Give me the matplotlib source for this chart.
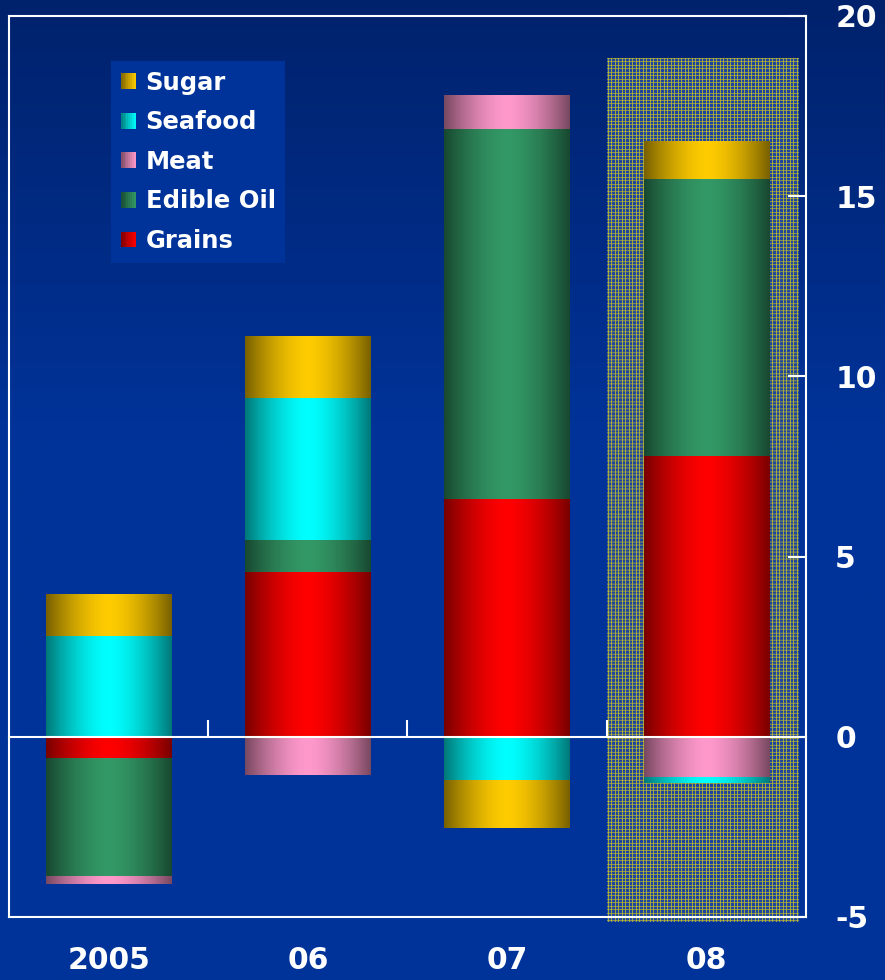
import numpy as np
import matplotlib.pyplot as plt
from matplotlib.colors import to_rgb
from matplotlib.patches import Rectangle
from matplotlib.legend_handler import HandlerBase

plt.rcParams['axes.unicode_minus'] = False

# contributions by commodity group, stacked grains first
years = ['2005', '06', '07', '08']
grains = [-0.6, 4.56, 6.61, 7.78]
edible_oil = [-3.28, 0.89, 10.25, 7.69]
meat = [-0.2, -1.06, 0.94, -1.14]
seafood = [2.8, 3.94, -1.22, -0.15]
sugar = [1.14, 1.72, -1.31, 1.03]

names = ['Grains', 'Edible Oil', 'Meat', 'Seafood', 'Sugar']
series = [grains, edible_oil, meat, seafood, sugar]
colors = ['#ff0000', '#339966', '#ff99cc', '#00ffff', '#ffcc00']

y_ticks = [-5, 0, 5, 10, 15, 20]
# shaded box behind the 2008 forecast
box = (2.5, 3.46, -5.14, 18.83)

BG = '#003399'
WHITE = '#ffffff'


def shade(n=200):
    t = np.linspace(0, 1, n)
    return 0.47 + 0.53 * (1 - np.abs(2 * t - 1) ** 1.6)


def cylinder(color, n=200):
    rgb = np.array(to_rgb(color))
    return np.clip(shade(n)[:, None] * rgb[None, :], 0, 1)[None, :, :]


class GradientHandler(HandlerBase):
    def create_artists(self, legend, orig, xd, yd, w, h, fontsize, trans):
        rgb = np.array(to_rgb(orig.get_facecolor()))
        k = 8
        out = []
        for i in range(k):
            f = 0.5 + 0.5 * (i + 0.5) / k
            r = Rectangle((-xd + w * i / k, -yd), w / k + 0.3, h,
                          facecolor=np.clip(rgb * f, 0, 1), edgecolor='none',
                          transform=trans)
            out.append(r)
        return out


fig = plt.figure(figsize=(8.85, 9.8), dpi=100)

# background, darker toward the top
bg_ax = fig.add_axes([0, 0, 1, 1], zorder=-10)
top = np.array(to_rgb('#00226c'))
bot = np.array(to_rgb(BG))
t = np.clip(np.linspace(0, 1, 400) / 0.45, 0, 1)[:, None]
grad = (top * (1 - t) + bot * t)[:, None, :]
bg_ax.imshow(grad, aspect='auto', extent=[0, 1, 0, 1], origin='upper')
bg_ax.axis('off')

ax = fig.add_axes([0.0102, 0.0643, 0.9005, 0.9194])
ax.set_facecolor('none')

# dotted highlight pattern
ny, nx = 863, 192
ii, jj = np.mgrid[0:ny, 0:nx]
pat = np.zeros((ny, nx, 3))
pat[:] = to_rgb('#1f44a0')
hline = np.isin(ii % 7, [0, 3])
vline = np.isin(jj % 7, [1, 4])
pat[hline] = to_rgb('#8c9448')
pat[vline] = to_rgb('#9aa640')
pat[hline & vline] = to_rgb('#b8b43c')
ax.imshow(pat, extent=box, aspect='auto', interpolation='antialiased',
          zorder=1, clip_on=False)

x = np.arange(len(years))
pos_base = np.zeros(len(years))
neg_base = np.zeros(len(years))
handles = []
for name, vals, col in zip(names, series, colors):
    vals = np.array(vals)
    bottom = np.where(vals >= 0, pos_base, neg_base)
    bars = ax.bar(x, vals, 0.63, bottom=bottom, facecolor=col,
                  edgecolor='none', label=name, zorder=2)
    for p in bars.patches:
        x0, y0 = p.get_x(), p.get_y()
        w, h = p.get_width(), p.get_height()
        ax.imshow(cylinder(col), extent=[x0, x0 + w, y0, y0 + h],
                  aspect='auto', zorder=3, interpolation='bilinear')
        p.set_visible(False)
    handles.append(Rectangle((0, 0), 1, 1, facecolor=col))
    pos_base += np.where(vals >= 0, vals, 0)
    neg_base += np.where(vals < 0, vals, 0)

ax.set_xlim(-0.5, 3.5)
ax.set_ylim(-5, 20)

for s in ax.spines.values():
    s.set_color(WHITE)
    s.set_linewidth(1.5)
    s.set_zorder(5)

ax.set_xticks(x)
ax.set_xticklabels(years)
ax.tick_params(axis='x', length=0, pad=21, labelsize=21.5, labelcolor=WHITE)
ax.yaxis.tick_right()
ax.set_yticks(y_ticks)
ax.tick_params(axis='y', direction='in', length=13, width=1.5, color=WHITE,
               pad=21, labelsize=21.5, labelcolor=WHITE)
for lab in ax.get_xticklabels() + ax.get_yticklabels():
    lab.set_fontweight('bold')

# zero line with marks between the years
zero = ax.secondary_xaxis(0.2)
zero.set_xticks([0.5, 1.5, 2.5])
zero.tick_params(direction='in', length=12, width=1.5, color=WHITE,
                 labelbottom=False)
zero.spines['bottom'].set_color(WHITE)
zero.spines['bottom'].set_linewidth(1.5)
zero.set_zorder(6)

order = [4, 3, 2, 1, 0]
leg = ax.legend([handles[i] for i in order], [names[i] for i in order],
                handler_map={Rectangle: GradientHandler()},
                loc='upper left', bbox_to_anchor=(0.128, 0.950),
                borderaxespad=0, frameon=True, fancybox=False,
                facecolor=BG, edgecolor='none', framealpha=1,
                prop={'size': 17.5, 'weight': 'bold'},
                handlelength=0.62, handleheight=0.62, handletextpad=0.4,
                labelspacing=0.64, borderpad=0.4)
for txt in leg.get_texts():
    txt.set_color(WHITE)
leg.set_zorder(7)

fig.savefig('out.png', facecolor=BG)
